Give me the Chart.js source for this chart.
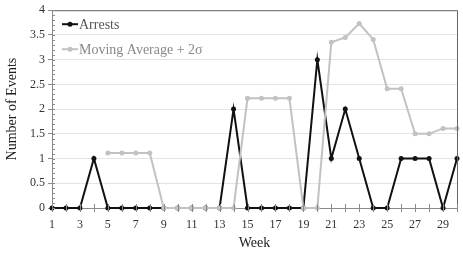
<!DOCTYPE html>
<html>
<head>
<meta charset="utf-8">
<script src="https://cdn.jsdelivr.net/npm/chart.js@4"></script>
<style>
  html, body { margin: 0; padding: 0; background: #fff; }
  #wrap { width: 463px; height: 253px; }
</style>
</head>
<body>
<div id="wrap"><canvas id="chart"></canvas></div>
<script>
var weeks = ['1','2','3','4','5','6','7','8','9','10','11','12','13','14','15','16','17','18','19','20','21','22','23','24','25','26','27','28','29','30']
var arrests = [0,0,0,1,0,0,0,0,0,0,0,0,0,2,0,0,0,0,0,3,1,2,1,0,0,1,1,1,0,1]
var movingAvg = [null,null,null,null,1.11,1.11,1.11,1.11,0,0,0,0,0,0,2.22,2.22,2.22,2.22,0,0,3.35,3.45,3.73,3.41,2.41,2.41,1.5,1.5,1.61,1.61]

var fontFamily = "Liberation Serif"
var axisColor = '#8a8a8a'

Chart.defaults.font.family = fontFamily

// minor ticks, week ticks, frame and legend drawn on top of the library scales
var extras = {
    id: 'extras',
    afterDraw: function (chart) {
        var ctx = chart.ctx
        var a = chart.chartArea
        var xs = chart.scales.x, ys = chart.scales.y
        ctx.save()
        ctx.strokeStyle = '#666'
        ctx.lineWidth = 1
        ctx.beginPath()
        ctx.moveTo(a.left, a.top + 0.5)
        ctx.lineTo(a.right + 0.5, a.top + 0.5)
        ctx.lineTo(a.right + 0.5, a.bottom)
        ctx.stroke()
        ctx.strokeStyle = axisColor
        ctx.beginPath()
        for (var v = 0; v <= 4.001; v += 0.1) {
            var py = Math.round(ys.getPixelForValue(v)) + 0.5
            ctx.moveTo(a.left, py)
            ctx.lineTo(a.left + 3, py)
        }
        for (var i = 0; i < weeks.length; i++) {
            var px = Math.round(xs.getPixelForValue(i)) + 0.5
            ctx.moveTo(px, a.bottom - 4)
            ctx.lineTo(px, a.bottom + 4)
        }
        ctx.stroke()
        var items = [
            {text: 'Arrests', color: '#111', textColor: '#555'},
            {text: 'Moving Average + 2\u03c3', color: '#c2c2c2', textColor: '#888'}
        ]
        ctx.font = '14px ' + fontFamily
        ctx.textBaseline = 'middle'
        items.forEach(function (it, k) {
            var y = a.top + 14 + k * 25
            var x0 = a.left + 10
            ctx.strokeStyle = it.color
            ctx.lineWidth = 2
            ctx.beginPath()
            ctx.moveTo(x0, y)
            ctx.lineTo(x0 + 16, y)
            ctx.stroke()
            ctx.fillStyle = it.color
            ctx.beginPath()
            ctx.arc(x0 + 8, y, 2.5, 0, Math.PI * 2)
            ctx.fill()
            ctx.fillStyle = it.textColor
            ctx.fillText(it.text, x0 + 17, y + 1)
        })
        ctx.restore()
    }
}

new Chart(document.getElementById('chart'), {
    type: 'line',
    data: {
        labels: weeks,
        datasets: [
            {
                label: 'Arrests',
                data: arrests,
                borderColor: '#111',
                backgroundColor: '#111',
                borderWidth: 2,
                pointRadius: 2.5,
                pointBorderWidth: 0,
                tension: 0,
                clip: false,
                order: 2
            },
            {
                label: 'Moving Average + 2\u03c3',
                data: movingAvg,
                borderColor: '#c2c2c2',
                backgroundColor: '#c2c2c2',
                borderWidth: 2,
                pointRadius: 2.5,
                pointBorderWidth: 0,
                tension: 0,
                clip: false,
                order: 1
            }
        ]
    },
    options: {
        responsive: true,
        maintainAspectRatio: false,
        animation: false,
        layout: {padding: {left: 0, top: 8, right: 6, bottom: 0}},
        plugins: {
            legend: {display: false},
            tooltip: {enabled: false}
        },
        scales: {
            x: {
                offset: false,
                grid: {display: false},
                border: {color: axisColor, width: 1},
                ticks: {
                    autoSkip: false,
                    maxRotation: 0,
                    color: '#333',
                    padding: 2,
                    font: {family: fontFamily, size: 12},
                    callback: function (v, i) { return i % 2 === 0 ? weeks[i] : '' }
                },
                title: {
                    display: true,
                    text: 'Week',
                    color: '#222',
                    padding: {top: 0, bottom: 1},
                    font: {family: fontFamily, size: 14}
                },
                afterFit: function (s) { s.height = 45 }
            },
            y: {
                min: 0,
                max: 4,
                grid: {
                    color: '#e4e4e4',
                    tickColor: axisColor,
                    tickLength: 4
                },
                border: {color: axisColor, width: 1},
                ticks: {
                    stepSize: 0.5,
                    color: '#333',
                    padding: 3,
                    font: {family: fontFamily, size: 12},
                    callback: function (v) { return String(v) }
                },
                title: {
                    display: true,
                    text: 'Number of Events',
                    color: '#222',
                    padding: {top: 4, bottom: 0},
                    font: {family: fontFamily, size: 14}
                },
                afterFit: function (s) { s.width = 52 }
            }
        }
    },
    plugins: [extras]
})
</script>
</body>
</html>
